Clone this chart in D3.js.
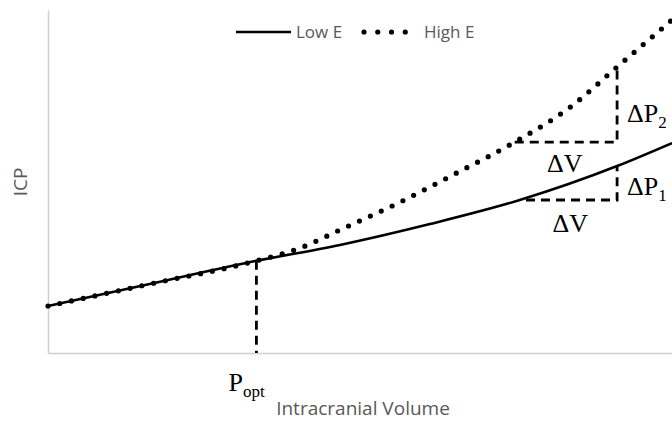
<!DOCTYPE html>
<html>
<head>
<meta charset="utf-8">
<script src="https://cdn.jsdelivr.net/npm/d3@7/dist/d3.min.js"></script>
<style>
  html, body { margin: 0; padding: 0; background: #fff; }
  svg { display: block; }
</style>
</head>
<body>
<svg id="chart" width="672" height="422"></svg>
<script>
// ---- Data (relative units) ----
const seriesNames = ["Low E", "High E"];
const lowEVolume = [0, 16.3, 33.2, 46.8, 61.2, 75.6, 91.2, 100];
const lowEICP    = [13.7, 20.1, 26.8, 31.5, 37.6, 44.6, 54.5, 61.2];
const highEVolume = [0, 16.3, 33.2, 40.4, 46.8, 56.1, 65.5, 74.8, 83.7, 91.2, 100];
const highEICP    = [13.7, 20.1, 26.8, 30.6, 35.9, 43.7, 52.5, 61.5, 71.7, 83.4, 97.1];
const pOptVolume = 33.4;
const deltaV2 = [74.8, 91.2];   // ΔV range on High E
const deltaP2 = [61.5, 83.9];   // ΔP range on High E
const deltaV1 = [76.6, 91.2];   // ΔV range on Low E
const deltaP1 = [44.6, 54.5];   // ΔP range on Low E
const xTitle = "Intracranial Volume";
const yTitle = "ICP";

// ---- Layout ----
const svg = d3.select("#chart");
const m = { left: 48, right: 0, top: 10, bottom: 69 };
const W = 672, H = 422;
const x = d3.scaleLinear().domain([0, 100]).range([m.left, W - m.right]);
const y = d3.scaleLinear().domain([0, 100]).range([H - m.bottom, m.top]);

// axes (plain lines, no ticks)
svg.append("g").attr("transform", `translate(0,${y(0)})`)
  .call(d3.axisBottom(x).tickValues([]).tickSizeOuter(0))
  .call(g => g.select(".domain").attr("stroke", "#d0d0d0").attr("stroke-width", 1.5));
svg.append("g").attr("transform", `translate(${x(0)},0)`)
  .call(d3.axisLeft(y).tickValues([]).tickSizeOuter(0))
  .call(g => g.select(".domain").attr("stroke", "#d0d0d0").attr("stroke-width", 1.5));

const line = d3.line().x(d => x(d[0])).y(d => y(d[1])).curve(d3.curveMonotoneX);
const lowData = lowEVolume.map((v, i) => [v, lowEICP[i]]);
const highData = highEVolume.map((v, i) => [v, highEICP[i]]);

// dashed annotation lines
const dashAttrs = sel => sel.attr("fill", "none").attr("stroke", "#000")
  .attr("stroke-width", 2.8).attr("stroke-dasharray", "9,6");
const pOptY = lowEICP[2] + (lowEICP[3] - lowEICP[2]) * (pOptVolume - lowEVolume[2]) / (lowEVolume[3] - lowEVolume[2]);
svg.append("line").call(dashAttrs)
  .attr("x1", x(pOptVolume)).attr("x2", x(pOptVolume))
  .attr("y1", y(pOptY)).attr("y2", y(0));
svg.append("path").call(dashAttrs)
  .attr("d", d3.line()([[x(deltaV2[0]), y(deltaP2[0])], [x(deltaV2[1]), y(deltaP2[0])], [x(deltaV2[1]), y(deltaP2[1])]]));
svg.append("path").call(dashAttrs)
  .attr("d", d3.line()([[x(deltaV1[0]), y(deltaP1[0])], [x(deltaV1[1]), y(deltaP1[0])], [x(deltaV1[1]), y(deltaP1[1])]]));

// series
svg.append("path").datum(lowData).attr("d", line)
  .attr("fill", "none").attr("stroke", "#000").attr("stroke-width", 2.6);
svg.append("path").datum(highData).attr("d", line)
  .attr("fill", "none").attr("stroke", "#000").attr("stroke-width", 5.2)
  .attr("stroke-linecap", "round").attr("stroke-dasharray", "0,12");

// annotation text (serif)
const serif = "'Liberation Serif', 'Times New Roman', serif";
function annot(tx, ty, main, sub) {
  const t = svg.append("text").attr("x", tx).attr("y", ty)
    .attr("font-family", serif).attr("font-size", 26).attr("fill", "#000");
  t.append("tspan").text(main);
  if (sub) t.append("tspan").attr("font-size", 17).attr("dy", 6).text(sub);
}
annot(x(pOptVolume) - 28, 391, "P", "opt");
annot(x((deltaV2[0] + deltaV2[1]) / 2) - 19, 172, "ΔV");
annot(x((deltaV1[0] + deltaV1[1]) / 2) - 19, 232, "ΔV");
annot(x(deltaV2[1]) + 10, 122, "ΔP", "2");
annot(x(deltaV1[1]) + 10, 195, "ΔP", "1");

// axis titles
const sans = "'Open Sans', 'Liberation Sans', sans-serif";
svg.append("text").attr("x", 363).attr("y", 415).attr("text-anchor", "middle")
  .attr("font-family", sans).attr("font-size", 19).attr("fill", "#595959").text(xTitle);
svg.append("text").attr("transform", "translate(27,182) rotate(-90)").attr("text-anchor", "middle")
  .attr("font-family", sans).attr("font-size", 19).attr("fill", "#595959").text(yTitle);

// legend
const lg = svg.append("g");
lg.append("line").attr("x1", 236).attr("x2", 291).attr("y1", 32).attr("y2", 32)
  .attr("stroke", "#000").attr("stroke-width", 2.6);
lg.append("text").attr("x", 296).attr("y", 38).attr("font-family", sans).attr("font-size", 17)
  .attr("fill", "#595959").text(seriesNames[0]);
lg.append("line").attr("x1", 364).attr("x2", 419).attr("y1", 32).attr("y2", 32)
  .attr("stroke", "#000").attr("stroke-width", 5.2).attr("stroke-linecap", "round").attr("stroke-dasharray", "0,13.75");
lg.append("text").attr("x", 424).attr("y", 38).attr("font-family", sans).attr("font-size", 17)
  .attr("fill", "#595959").text(seriesNames[1]);
</script>
</body>
</html>
